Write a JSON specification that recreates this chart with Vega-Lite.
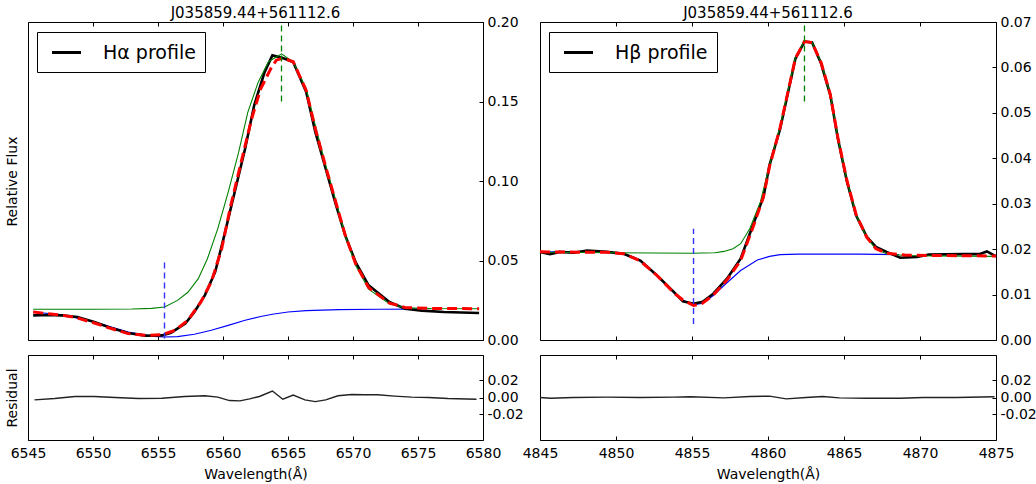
{
  "$schema": "https://vega.github.io/schema/vega-lite/v6.json",
  "background": "white",
  "padding": {"left": 4, "top": 5, "right": 5, "bottom": 3},
  "spacing": -3,
  "resolve": {"scale": {"stroke": "independent"}, "legend": {"stroke": "independent"}},
  "config": {
    "font": "DejaVu Sans",
    "view": {"stroke": "black", "strokeWidth": 1},
    "axis": {
      "labelFont": "DejaVu Sans", "titleFont": "DejaVu Sans",
      "labelFontSize": 14, "titleFontSize": 14, "titleFontWeight": "normal",
      "labelColor": "black", "titleColor": "black", "tickColor": "black",
      "domain": false, "grid": false, "tickSize": -4, "labelPadding": 8,
      "labelFlush": false, "labelOverlap": false, "labelBound": false
    },
    "title": {"font": "DejaVu Sans", "fontSize": 15, "fontWeight": "normal", "color": "black", "offset": -6, "anchor": "middle"},
    "legend": {"labelFont": "DejaVu Sans"}
  },
  "datasets": {
    "ha_obs": [
      {"w": 6545.4, "f": 0.0155}, {"w": 6546.5, "f": 0.0157}, {"w": 6547.6, "f": 0.0155}, {"w": 6548.8, "f": 0.0145},
      {"w": 6550.1, "f": 0.0113}, {"w": 6551.4, "f": 0.0075}, {"w": 6552.7, "f": 0.0044}, {"w": 6554.0, "f": 0.0027},
      {"w": 6555.3, "f": 0.0029}, {"w": 6556.0, "f": 0.0046}, {"w": 6557.1, "f": 0.0103}, {"w": 6557.8, "f": 0.0176},
      {"w": 6558.6, "f": 0.0281}, {"w": 6559.4, "f": 0.0428}, {"w": 6560.1, "f": 0.0658}, {"w": 6560.9, "f": 0.0931},
      {"w": 6561.7, "f": 0.1203}, {"w": 6562.4, "f": 0.1476}, {"w": 6563.2, "f": 0.1685}, {"w": 6563.8, "f": 0.179},
      {"w": 6564.6, "f": 0.1773}, {"w": 6565.4, "f": 0.1748}, {"w": 6566.4, "f": 0.156}, {"w": 6567.1, "f": 0.1308},
      {"w": 6567.9, "f": 0.1077}, {"w": 6568.7, "f": 0.0847}, {"w": 6569.4, "f": 0.0658}, {"w": 6570.2, "f": 0.049},
      {"w": 6571.2, "f": 0.0344}, {"w": 6572.8, "f": 0.0239}, {"w": 6574.0, "f": 0.0197}, {"w": 6575.3, "f": 0.0185},
      {"w": 6577.0, "f": 0.0176}, {"w": 6579.7, "f": 0.017}
    ],
    "ha_fit": [
      {"w": 6545.4, "f": 0.0176}, {"w": 6546.5, "f": 0.0166}, {"w": 6547.6, "f": 0.0156}, {"w": 6548.6, "f": 0.0143},
      {"w": 6550.1, "f": 0.0107}, {"w": 6551.4, "f": 0.0072}, {"w": 6552.7, "f": 0.004}, {"w": 6554.2, "f": 0.0029},
      {"w": 6555.3, "f": 0.0034}, {"w": 6556.3, "f": 0.006}, {"w": 6557.3, "f": 0.0124}, {"w": 6558.3, "f": 0.0239},
      {"w": 6559.1, "f": 0.0365}, {"w": 6559.9, "f": 0.0574}, {"w": 6560.6, "f": 0.0847}, {"w": 6561.4, "f": 0.112},
      {"w": 6562.2, "f": 0.139}, {"w": 6562.9, "f": 0.158}, {"w": 6563.7, "f": 0.171}, {"w": 6564.1, "f": 0.176},
      {"w": 6564.6, "f": 0.1773}, {"w": 6565.4, "f": 0.175}, {"w": 6566.4, "f": 0.157}, {"w": 6567.1, "f": 0.133},
      {"w": 6567.9, "f": 0.109}, {"w": 6568.7, "f": 0.086}, {"w": 6569.4, "f": 0.066}, {"w": 6570.2, "f": 0.048},
      {"w": 6571.2, "f": 0.033}, {"w": 6572.8, "f": 0.0232}, {"w": 6574.0, "f": 0.0205}, {"w": 6576.0, "f": 0.0198},
      {"w": 6579.7, "f": 0.0197}
    ],
    "ha_em": [
      {"w": 6545.4, "f": 0.0193}, {"w": 6550.0, "f": 0.0193}, {"w": 6553.0, "f": 0.0195}, {"w": 6554.5, "f": 0.0199},
      {"w": 6555.5, "f": 0.0207}, {"w": 6556.5, "f": 0.0249}, {"w": 6557.3, "f": 0.03}, {"w": 6558.1, "f": 0.0386},
      {"w": 6558.8, "f": 0.0511}, {"w": 6559.6, "f": 0.07}, {"w": 6560.4, "f": 0.093}, {"w": 6561.2, "f": 0.118},
      {"w": 6561.9, "f": 0.143}, {"w": 6562.7, "f": 0.162}, {"w": 6563.5, "f": 0.175}, {"w": 6564.5, "f": 0.18},
      {"w": 6565.4, "f": 0.175}, {"w": 6566.4, "f": 0.158}, {"w": 6567.1, "f": 0.135}, {"w": 6567.9, "f": 0.11},
      {"w": 6568.7, "f": 0.087}, {"w": 6569.4, "f": 0.0658}, {"w": 6570.2, "f": 0.047}, {"w": 6571.2, "f": 0.032},
      {"w": 6572.8, "f": 0.0228}, {"w": 6574.0, "f": 0.0203}, {"w": 6576.0, "f": 0.0198}, {"w": 6579.7, "f": 0.0197}
    ],
    "ha_abs": [
      {"w": 6545.4, "f": 0.0176}, {"w": 6547.6, "f": 0.0159}, {"w": 6550.1, "f": 0.0113}, {"w": 6552.7, "f": 0.005},
      {"w": 6554.7, "f": 0.0023}, {"w": 6555.5, "f": 0.0019}, {"w": 6556.5, "f": 0.0021}, {"w": 6557.8, "f": 0.0036},
      {"w": 6559.1, "f": 0.0061}, {"w": 6560.4, "f": 0.0092}, {"w": 6561.7, "f": 0.0124}, {"w": 6562.9, "f": 0.0148},
      {"w": 6563.8, "f": 0.0162}, {"w": 6565.0, "f": 0.0176}, {"w": 6566.4, "f": 0.0185}, {"w": 6568.9, "f": 0.0191},
      {"w": 6572.0, "f": 0.0193}, {"w": 6575.0, "f": 0.0194}
    ],
    "ha_res": [
      {"w": 6545.5, "r": -0.0028}, {"w": 6547.05, "r": -0.0012}, {"w": 6548.6, "r": 0.0012}, {"w": 6550.1, "r": 0.0012},
      {"w": 6551.7, "r": 0.0}, {"w": 6553.5, "r": -0.0012}, {"w": 6555.3, "r": -0.0008}, {"w": 6557.05, "r": 0.0012},
      {"w": 6558.6, "r": 0.002}, {"w": 6559.6, "r": 0.0004}, {"w": 6560.5, "r": -0.0036}, {"w": 6561.3, "r": -0.004},
      {"w": 6562.05, "r": -0.0016}, {"w": 6562.8, "r": 0.0012}, {"w": 6563.8, "r": 0.0076}, {"w": 6564.6, "r": -0.002},
      {"w": 6565.4, "r": 0.0028}, {"w": 6566.3, "r": -0.0028}, {"w": 6567.1, "r": -0.0048}, {"w": 6567.9, "r": -0.0028},
      {"w": 6568.85, "r": 0.002}, {"w": 6569.9, "r": 0.0036}, {"w": 6570.9, "r": 0.0032}, {"w": 6571.9, "r": 0.0032},
      {"w": 6573.2, "r": 0.0016}, {"w": 6574.5, "r": 0.0004}, {"w": 6575.8, "r": 0.0}, {"w": 6577.3, "r": -0.0012},
      {"w": 6579.5, "r": -0.002}
    ],
    "ha_em_center": [{"w": 6564.5, "y1": 0.15, "y2": 0.2}],
    "ha_abs_center": [{"w": 6555.5, "y1": 0.001, "y2": 0.05}],
    "hb_obs": [
      {"w": 4845.0, "f": 0.0194}, {"w": 4845.66, "f": 0.0189}, {"w": 4846.3, "f": 0.0194}, {"w": 4847.2, "f": 0.0192},
      {"w": 4848.1, "f": 0.0197}, {"w": 4849.4, "f": 0.0194}, {"w": 4850.5, "f": 0.019}, {"w": 4851.6, "f": 0.0175},
      {"w": 4852.7, "f": 0.0142}, {"w": 4853.8, "f": 0.0106}, {"w": 4854.4, "f": 0.0085}, {"w": 4855.1, "f": 0.008},
      {"w": 4855.7, "f": 0.0084}, {"w": 4856.4, "f": 0.0102}, {"w": 4857.3, "f": 0.0135}, {"w": 4858.2, "f": 0.0179},
      {"w": 4859.0, "f": 0.0252}, {"w": 4859.7, "f": 0.0315}, {"w": 4860.1, "f": 0.0385}, {"w": 4860.8, "f": 0.0465},
      {"w": 4861.8, "f": 0.0619}, {"w": 4862.4, "f": 0.0657}, {"w": 4862.9, "f": 0.0655}, {"w": 4863.5, "f": 0.0608},
      {"w": 4864.1, "f": 0.0539}, {"w": 4864.6, "f": 0.0443}, {"w": 4865.2, "f": 0.0348}, {"w": 4865.8, "f": 0.0274},
      {"w": 4866.5, "f": 0.0227}, {"w": 4867.1, "f": 0.0205}, {"w": 4867.8, "f": 0.0194}, {"w": 4868.7, "f": 0.0181},
      {"w": 4869.8, "f": 0.0183}, {"w": 4870.6, "f": 0.0188}, {"w": 4872.8, "f": 0.0189}, {"w": 4873.9, "f": 0.0189},
      {"w": 4874.4, "f": 0.0195}, {"w": 4875.0, "f": 0.0184}
    ],
    "hb_fit": [
      {"w": 4845.0, "f": 0.0194}, {"w": 4849.4, "f": 0.0193}, {"w": 4850.5, "f": 0.019}, {"w": 4851.6, "f": 0.0174},
      {"w": 4852.7, "f": 0.0142}, {"w": 4853.8, "f": 0.0104}, {"w": 4854.4, "f": 0.0088}, {"w": 4855.1, "f": 0.0076},
      {"w": 4855.7, "f": 0.0081}, {"w": 4856.4, "f": 0.0099}, {"w": 4857.3, "f": 0.0132}, {"w": 4858.2, "f": 0.0175},
      {"w": 4859.0, "f": 0.0247}, {"w": 4859.7, "f": 0.0315}, {"w": 4860.1, "f": 0.0382}, {"w": 4860.8, "f": 0.0468},
      {"w": 4861.8, "f": 0.062}, {"w": 4862.4, "f": 0.0657}, {"w": 4862.9, "f": 0.0655}, {"w": 4863.5, "f": 0.061},
      {"w": 4864.1, "f": 0.054}, {"w": 4864.6, "f": 0.0445}, {"w": 4865.2, "f": 0.035}, {"w": 4865.8, "f": 0.0276},
      {"w": 4866.5, "f": 0.0226}, {"w": 4867.1, "f": 0.0201}, {"w": 4867.8, "f": 0.0191}, {"w": 4869.0, "f": 0.0187},
      {"w": 4871.0, "f": 0.0186}, {"w": 4875.0, "f": 0.0185}
    ],
    "hb_em": [
      {"w": 4845.0, "f": 0.0193}, {"w": 4850.0, "f": 0.0192}, {"w": 4855.0, "f": 0.0191}, {"w": 4856.5, "f": 0.0192},
      {"w": 4857.1, "f": 0.0195}, {"w": 4857.7, "f": 0.0201}, {"w": 4858.2, "f": 0.0212}, {"w": 4858.8, "f": 0.0245},
      {"w": 4859.5, "f": 0.0304}, {"w": 4860.1, "f": 0.0385}, {"w": 4860.8, "f": 0.047}, {"w": 4861.8, "f": 0.0622},
      {"w": 4862.4, "f": 0.0658}, {"w": 4862.9, "f": 0.0655}, {"w": 4863.5, "f": 0.061}, {"w": 4864.1, "f": 0.054},
      {"w": 4864.6, "f": 0.0445}, {"w": 4865.2, "f": 0.035}, {"w": 4865.8, "f": 0.0275}, {"w": 4866.5, "f": 0.0225},
      {"w": 4867.1, "f": 0.02}, {"w": 4867.8, "f": 0.019}, {"w": 4869.0, "f": 0.0186}, {"w": 4871.0, "f": 0.0185},
      {"w": 4875.0, "f": 0.0184}
    ],
    "hb_abs": [
      {"w": 4845.0, "f": 0.0194}, {"w": 4847.0, "f": 0.0194}, {"w": 4849.4, "f": 0.0193}, {"w": 4850.5, "f": 0.019},
      {"w": 4851.6, "f": 0.0174}, {"w": 4852.7, "f": 0.0142}, {"w": 4853.8, "f": 0.0104}, {"w": 4854.4, "f": 0.0088},
      {"w": 4855.1, "f": 0.0077}, {"w": 4855.7, "f": 0.0081}, {"w": 4856.4, "f": 0.0098}, {"w": 4857.1, "f": 0.012},
      {"w": 4858.2, "f": 0.0153}, {"w": 4859.3, "f": 0.0176}, {"w": 4860.1, "f": 0.0184}, {"w": 4860.8, "f": 0.0188},
      {"w": 4862.0, "f": 0.0189}, {"w": 4866.0, "f": 0.0189}, {"w": 4868.6, "f": 0.0188}
    ],
    "hb_res": [
      {"w": 4845.0, "r": 0.0}, {"w": 4845.7, "r": -0.0008}, {"w": 4847.2, "r": 0.0}, {"w": 4849.4, "r": 0.0004},
      {"w": 4851.6, "r": 0.0}, {"w": 4853.8, "r": 0.0004}, {"w": 4854.9, "r": 0.0008}, {"w": 4857.1, "r": -0.0004},
      {"w": 4858.8, "r": 0.0012}, {"w": 4860.1, "r": 0.0016}, {"w": 4861.2, "r": -0.0016}, {"w": 4862.5, "r": 0.0},
      {"w": 4863.6, "r": 0.0012}, {"w": 4864.7, "r": -0.0004}, {"w": 4866.5, "r": -0.0008}, {"w": 4868.7, "r": -0.0008},
      {"w": 4870.2, "r": 0.0}, {"w": 4872.4, "r": 0.0}, {"w": 4874.9, "r": 0.0008}
    ],
    "hb_em_center": [{"w": 4862.4, "y1": 0.0525, "y2": 0.07}],
    "hb_abs_center": [{"w": 4855.1, "y1": 0.0035, "y2": 0.0245}]
  },
  "hconcat": [
    {
      "bounds": "flush",
      "spacing": 15,
      "resolve": {"scale": {"stroke": "independent"}, "legend": {"stroke": "independent"}},
      "vconcat": [
        {
          "width": 455, "height": 318,
          "title": "J035859.44+561112.6",
          "resolve": {"axis": {"x": "independent", "y": "independent"}},
          "layer": [
            {
              "data": {"name": "ha_abs"},
              "mark": {"type": "line", "color": "#0000ff", "strokeWidth": 1.1},
              "encoding": {
                "x": {"field": "w", "type": "quantitative", "scale": {"domain": [6545, 6580], "nice": false, "zero": false},
                      "axis": {"orient": "bottom", "labels": false, "title": null, "values": [6545, 6550, 6555, 6560, 6565, 6570, 6575, 6580]}},
                "y": {"field": "f", "type": "quantitative", "scale": {"domain": [0, 0.2], "nice": false, "zero": false},
                      "axis": {"orient": "right", "title": null, "format": ".2f", "values": [0, 0.05, 0.1, 0.15, 0.2]}}
              }
            },
            {
              "data": {"name": "ha_obs"},
              "mark": {"type": "line", "strokeWidth": 2.6, "strokeJoin": "miter"},
              "encoding": {
                "x": {"field": "w", "type": "quantitative", "axis": {"orient": "top", "labels": false, "title": null, "values": [6545, 6550, 6555, 6560, 6565, 6570, 6575, 6580]}},
                "y": {"field": "f", "type": "quantitative", "axis": {"orient": "left", "labels": false, "ticks": false, "title": "Relative Flux", "titlePadding": 9}},
                "stroke": {"datum": "Hα profile", "type": "nominal", "scale": {"range": ["black"]},
                           "legend": {"orient": "none", "legendX": 9, "legendY": 10, "title": null, "symbolType": "M-1.45,0H1.45", "symbolSize": 400,
                                      "symbolOffset": 9, "symbolStrokeWidth": 3, "symbolStrokeColor": "black", "symbolFillColor": "transparent",
                                      "labelFontSize": 19, "labelColor": "black",
                                      "strokeColor": "black", "fillColor": "white", "padding": 9, "labelOffset": 25, "cornerRadius": 0, "labelLimit": 300}}
              }
            },
            {
              "data": {"name": "ha_em"},
              "mark": {"type": "line", "color": "#008000", "strokeWidth": 1.1},
              "encoding": {
                "x": {"field": "w", "type": "quantitative", "axis": null},
                "y": {"field": "f", "type": "quantitative", "axis": null}
              }
            },
            {
              "data": {"name": "ha_fit"},
              "mark": {"type": "line", "color": "#ff0000", "strokeWidth": 3, "strokeDash": [10, 5]},
              "encoding": {
                "x": {"field": "w", "type": "quantitative", "axis": null},
                "y": {"field": "f", "type": "quantitative", "axis": null}
              }
            },
            {
              "data": {"name": "ha_em_center"},
              "mark": {"type": "rule", "color": "#008000", "strokeWidth": 1.3, "strokeDash": [6, 4]},
              "encoding": {
                "x": {"field": "w", "type": "quantitative", "axis": null},
                "y": {"field": "y1", "type": "quantitative", "axis": null},
                "y2": {"field": "y2"}
              }
            },
            {
              "data": {"name": "ha_abs_center"},
              "mark": {"type": "rule", "color": "#3333ff", "strokeWidth": 1.4, "strokeDash": [6, 4]},
              "encoding": {
                "x": {"field": "w", "type": "quantitative", "axis": null},
                "y": {"field": "y1", "type": "quantitative", "axis": null},
                "y2": {"field": "y2"}
              }
            }
          ]
        },
        {
          "width": 455, "height": 85,
          "resolve": {"axis": {"x": "independent", "y": "independent"}},
          "layer": [
            {
              "data": {"name": "ha_res"},
              "mark": {"type": "line", "color": "#222222", "strokeWidth": 1.4},
              "encoding": {
                "x": {"field": "w", "type": "quantitative", "scale": {"domain": [6545, 6580], "nice": false, "zero": false},
                      "axis": {"orient": "bottom", "title": "Wavelength(Å)", "titlePadding": 7, "labelPadding": 10, "format": "d", "values": [6545, 6550, 6555, 6560, 6565, 6570, 6575, 6580]}},
                "y": {"field": "r", "type": "quantitative", "scale": {"domain": [-0.05, 0.05], "nice": false, "zero": false},
                      "axis": {"orient": "right", "title": null, "values": [-0.02, 0, 0.02], "labelExpr": "replace(format(datum.value, '.2f'), '−', '-')"}}
              }
            },
            {
              "data": {"name": "ha_res"},
              "mark": {"type": "line", "opacity": 0},
              "encoding": {
                "x": {"field": "w", "type": "quantitative", "axis": {"orient": "top", "labels": false, "title": null, "values": [6545, 6550, 6555, 6560, 6565, 6570, 6575, 6580]}},
                "y": {"field": "r", "type": "quantitative", "axis": {"orient": "left", "labels": false, "ticks": false, "title": "Residual", "titlePadding": 9}}
              }
            }
          ]
        }
      ]
    },
    {
      "bounds": "flush",
      "spacing": 15,
      "resolve": {"scale": {"stroke": "independent"}, "legend": {"stroke": "independent"}},
      "vconcat": [
        {
          "width": 456, "height": 318,
          "title": "J035859.44+561112.6",
          "resolve": {"axis": {"x": "independent", "y": "independent"}},
          "layer": [
            {
              "data": {"name": "hb_abs"},
              "mark": {"type": "line", "color": "#0000ff", "strokeWidth": 1.1},
              "encoding": {
                "x": {"field": "w", "type": "quantitative", "scale": {"domain": [4845, 4875], "nice": false, "zero": false},
                      "axis": {"orient": "bottom", "labels": false, "title": null, "values": [4845, 4850, 4855, 4860, 4865, 4870, 4875]}},
                "y": {"field": "f", "type": "quantitative", "scale": {"domain": [0, 0.07], "nice": false, "zero": false},
                      "axis": {"orient": "right", "title": null, "format": ".2f", "values": [0, 0.01, 0.02, 0.03, 0.04, 0.05, 0.06, 0.07]}}
              }
            },
            {
              "data": {"name": "hb_obs"},
              "mark": {"type": "line", "strokeWidth": 2.6, "strokeJoin": "miter"},
              "encoding": {
                "x": {"field": "w", "type": "quantitative", "axis": {"orient": "top", "labels": false, "title": null, "values": [4845, 4850, 4855, 4860, 4865, 4870, 4875]}},
                "y": {"field": "f", "type": "quantitative", "axis": null},
                "stroke": {"datum": "Hβ profile", "type": "nominal", "scale": {"range": ["black"]},
                           "legend": {"orient": "none", "legendX": 9, "legendY": 10, "title": null, "symbolType": "M-1.45,0H1.45", "symbolSize": 400,
                                      "symbolOffset": 9, "symbolStrokeWidth": 3, "symbolStrokeColor": "black", "symbolFillColor": "transparent",
                                      "labelFontSize": 19, "labelColor": "black",
                                      "strokeColor": "black", "fillColor": "white", "padding": 9, "labelOffset": 25, "cornerRadius": 0, "labelLimit": 300}}
              }
            },
            {
              "data": {"name": "hb_em"},
              "mark": {"type": "line", "color": "#008000", "strokeWidth": 1.1},
              "encoding": {
                "x": {"field": "w", "type": "quantitative", "axis": null},
                "y": {"field": "f", "type": "quantitative", "axis": null}
              }
            },
            {
              "data": {"name": "hb_fit"},
              "mark": {"type": "line", "color": "#ff0000", "strokeWidth": 3, "strokeDash": [10, 5]},
              "encoding": {
                "x": {"field": "w", "type": "quantitative", "axis": null},
                "y": {"field": "f", "type": "quantitative", "axis": null}
              }
            },
            {
              "data": {"name": "hb_em_center"},
              "mark": {"type": "rule", "color": "#008000", "strokeWidth": 1.3, "strokeDash": [6, 4]},
              "encoding": {
                "x": {"field": "w", "type": "quantitative", "axis": null},
                "y": {"field": "y1", "type": "quantitative", "axis": null},
                "y2": {"field": "y2"}
              }
            },
            {
              "data": {"name": "hb_abs_center"},
              "mark": {"type": "rule", "color": "#3333ff", "strokeWidth": 1.4, "strokeDash": [6, 4]},
              "encoding": {
                "x": {"field": "w", "type": "quantitative", "axis": null},
                "y": {"field": "y1", "type": "quantitative", "axis": null},
                "y2": {"field": "y2"}
              }
            }
          ]
        },
        {
          "width": 456, "height": 85,
          "resolve": {"axis": {"x": "independent", "y": "independent"}},
          "layer": [
            {
              "data": {"name": "hb_res"},
              "mark": {"type": "line", "color": "#222222", "strokeWidth": 1.4},
              "encoding": {
                "x": {"field": "w", "type": "quantitative", "scale": {"domain": [4845, 4875], "nice": false, "zero": false},
                      "axis": {"orient": "bottom", "title": "Wavelength(Å)", "titlePadding": 7, "labelPadding": 10, "format": "d", "values": [4845, 4850, 4855, 4860, 4865, 4870, 4875]}},
                "y": {"field": "r", "type": "quantitative", "scale": {"domain": [-0.05, 0.05], "nice": false, "zero": false},
                      "axis": {"orient": "right", "title": null, "values": [-0.02, 0, 0.02], "labelExpr": "replace(format(datum.value, '.2f'), '−', '-')"}}
              }
            },
            {
              "data": {"name": "hb_res"},
              "mark": {"type": "line", "opacity": 0},
              "encoding": {
                "x": {"field": "w", "type": "quantitative", "axis": {"orient": "top", "labels": false, "title": null, "values": [4845, 4850, 4855, 4860, 4865, 4870, 4875]}},
                "y": {"field": "r", "type": "quantitative", "axis": null}
              }
            }
          ]
        }
      ]
    }
  ]
}
